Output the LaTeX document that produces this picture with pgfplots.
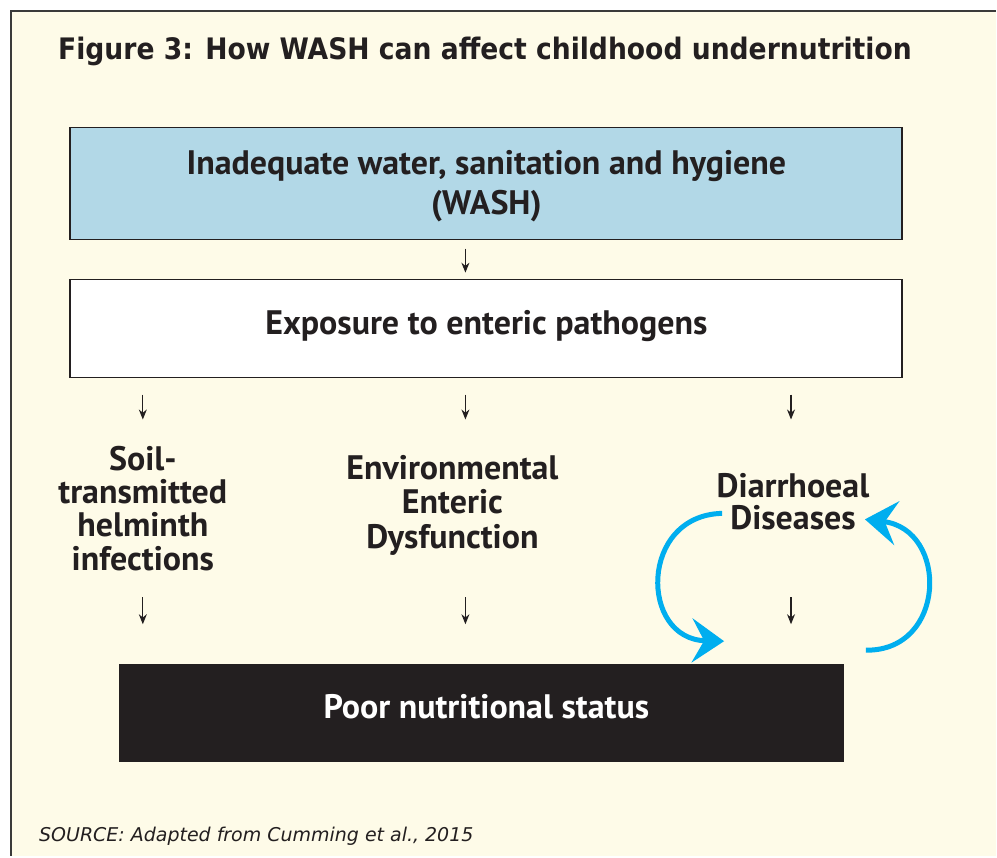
\documentclass[border=0pt]{standalone}
\usepackage{pgfplots}
\pgfplotsset{compat=1.18}
\usepackage{fontspec}
\setmainfont{PT Sans}
\newfontfamily\titlefont{DejaVu Sans Condensed}
\newfontfamily\srcfont{DejaVu Sans}
\usetikzlibrary{arrows.meta}
\definecolor{cream}{HTML}{FEFBE8}
\definecolor{washblue}{HTML}{B2D8E7}
\definecolor{txt}{HTML}{231F20}
\definecolor{cyanarrow}{HTML}{00AEEF}
\definecolor{frame}{HTML}{3A3A3A}
\begin{document}
\begin{tikzpicture}
\begin{axis}[scale only axis, width=997pt, height=857pt,
  xmin=0, xmax=997, ymin=0, ymax=857, y dir=reverse,
  axis lines=none, clip=false]
% background
\addplot[draw=none, fill=white] coordinates {(0,0) (997,0) (997,857) (0,857)} --cycle;
\addplot[draw=none, fill=cream] coordinates {(11,11) (997,11) (997,857) (11,857)} --cycle;
\addplot[line width=2.5pt, color=frame] coordinates {(11,857) (11,11) (997,11)};
% boxes
\addplot[fill=washblue, draw=txt, line width=1.3pt] coordinates {(70,128) (903,128) (903,240) (70,240)} --cycle;
\addplot[fill=white, draw=txt, line width=1.3pt] coordinates {(70,280) (903,280) (903,378) (70,378)} --cycle;
\addplot[fill=txt, draw=txt, line width=1pt] coordinates {(120,665) (845,665) (845,762) (120,762)} --cycle;
% small arrows
\addplot[txt, line width=1.2pt, -{Stealth[length=10pt,width=8pt]}] coordinates {(466,249) (466,273)};
\addplot[txt, line width=1.2pt, -{Stealth[length=10pt,width=8pt]}] coordinates {(143,395) (143,420)};
\addplot[txt, line width=1.2pt, -{Stealth[length=10pt,width=8pt]}] coordinates {(466,395) (466,420)};
\addplot[txt, line width=1.2pt, -{Stealth[length=10pt,width=8pt]}] coordinates {(792,395) (792,420)};
\addplot[txt, line width=1.2pt, -{Stealth[length=10pt,width=8pt]}] coordinates {(143,598) (143,625)};
\addplot[txt, line width=1.2pt, -{Stealth[length=10pt,width=8pt]}] coordinates {(466,598) (466,625)};
\addplot[txt, line width=1.2pt, -{Stealth[length=10pt,width=8pt]}] coordinates {(792,598) (792,625)};
% cyan cycle arrows
\draw[cyanarrow, line width=5pt, -{Stealth[length=32pt,width=44pt,inset=12pt]}]
  (axis cs:723,514) .. controls (axis cs:640,516) and (axis cs:640,640) .. (axis cs:725,642);
\draw[cyanarrow, line width=5pt, -{Stealth[length=32pt,width=44pt,inset=12pt]}]
  (axis cs:867,651) .. controls (axis cs:948,652) and (axis cs:950,530) .. (axis cs:866,520);
% texts
\node[anchor=base west, text=txt, inner sep=0pt,
  font={\titlefont\bfseries\fontsize{29.6}{36}\selectfont}] at (axis cs:58,60)
  {Figure 3: How WASH can affect childhood undernutrition};
\node[text=txt, align=center, inner sep=0pt,
  font={\bfseries\fontsize{34}{40}\selectfont}] at (axis cs:487,186)
  {Inadequate water, sanitation and hygiene\\(WASH)};
\node[text=txt, align=center, inner sep=0pt,
  font={\bfseries\fontsize{34}{40}\selectfont}] at (axis cs:487,326)
  {Exposure to enteric pathogens};
\node[text=txt, align=center, inner sep=0pt,
  font={\bfseries\fontsize{34}{33.5}\selectfont}] at (axis cs:143,509)
  {Soil-\\transmitted\\helminth\\infections};
\node[text=txt, align=center, inner sep=0pt,
  font={\bfseries\fontsize{34}{35}\selectfont}] at (axis cs:453,506)
  {Environmental\\Enteric\\Dysfunction};
\node[text=txt, align=center, inner sep=0pt,
  font={\bfseries\fontsize{34}{32}\selectfont}] at (axis cs:794,502)
  {Diarrhoeal\\Diseases};
\node[text=white, align=center, inner sep=0pt,
  font={\bfseries\fontsize{34}{40}\selectfont}] at (axis cs:487,708)
  {Poor nutritional status};
\node[anchor=base west, text=txt, inner sep=0pt,
  font={\srcfont\itshape\fontsize{19}{22}\selectfont}] at (axis cs:39,843)
  {SOURCE: Adapted from Cumming et al., 2015};
\end{axis}
\end{tikzpicture}
\end{document}
